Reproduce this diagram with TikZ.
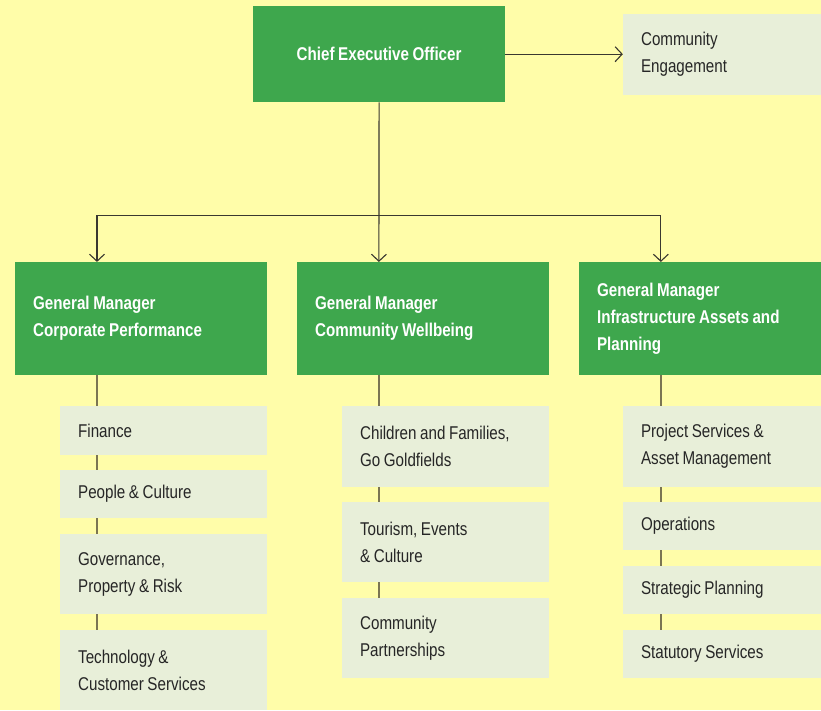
\documentclass[tikz,border=0pt]{standalone}
\usepackage{fontspec}
\setmainfont{Liberation Sans}[FakeStretch=0.82,WordSpace=0.85]
\usepackage{xcolor}
\usetikzlibrary{arrows.meta,backgrounds,calc}

\definecolor{pageyellow}{HTML}{FFFDA9}
\definecolor{gmgreen}{HTML}{3EA74D}
\definecolor{unitpale}{HTML}{E8EFD9}
\definecolor{linkgrey}{HTML}{3A3830}
\definecolor{stemline}{HTML}{7B7553}

\begin{document}
\begin{tikzpicture}[x=1pt,y=-1pt,
  font=\fontsize{18.5}{27}\selectfont,
  box/.style={anchor=north west, inner xsep=18pt, inner ysep=0pt, align=flush left},
  head/.style={box, fill=gmgreen, text=white, font=\fontsize{18.5}{27}\selectfont\bfseries},
  unit/.style={box, fill=unitpale, text=black!85},
  arr/.style={draw=linkgrey, line width=1.1pt, -{Straight Barb[length=7pt,width=15pt]}},
  stem/.style={draw=stemline, line width=1.5pt}]

  % top level
  \node[head, align=flush center, inner xsep=0pt, minimum width=252pt, minimum height=96pt] (ceo) at (253,6) {Chief Executive Officer};
  \node[unit, text width=162pt, minimum height=81pt] (engage) at (623,14) {Community\\Engagement};

  % general managers
  \node[head, text width=216pt, minimum height=113pt] (gmCP) at (15,262) {General Manager\\Corporate Performance};
  \node[head, text width=216pt, minimum height=113pt] (gmCW) at (297,262) {General Manager\\Community Wellbeing};
  \node[head, text width=206pt, minimum height=113pt] (gmIA) at (579,262) {General Manager\\Infrastructure Assets and\\Planning};

  % corporate performance units
  \node[unit, text width=171pt, minimum height=49pt] (cp1) at (60,406) {Finance};
  \node[unit, text width=171pt, minimum height=48pt] (cp2) at (60,470) {People \& Culture};
  \node[unit, text width=171pt, minimum height=80pt] (cp3) at (60,534) {Governance,\\Property \& Risk};
  \node[unit, text width=171pt, minimum height=80pt] (cp4) at (60,630) {Technology \&\\Customer Services};

  % community wellbeing units
  \node[unit, text width=171pt, minimum height=81pt] (cw1) at (342,406) {Children and Families,\\Go Goldfields};
  \node[unit, text width=171pt, minimum height=80pt] (cw2) at (342,502) {Tourism, Events\\\& Culture};
  \node[unit, text width=171pt, minimum height=80pt] (cw3) at (342,598) {Community\\Partnerships};

  % infrastructure units
  \node[unit, text width=162pt, minimum height=81pt] (ia1) at (623,406) {Project Services \&\\Asset Management};
  \node[unit, text width=162pt, minimum height=48pt] (ia2) at (623,502) {Operations};
  \node[unit, text width=162pt, minimum height=48pt] (ia3) at (623,566) {Strategic Planning};
  \node[unit, text width=162pt, minimum height=48pt] (ia4) at (623,630) {Statutory Services};

  % entry points of the arrows
  \coordinate (cpIn) at ($(gmCP.north west)+(82,0)$);
  \coordinate (cwIn) at ($(gmCW.north west)+(82,0)$);
  \coordinate (iaIn) at ($(gmIA.north west)+(82,0)$);
  \coordinate (fork) at ($(ceo.south)+(0,113)$);

  \draw[arr] (ceo.east) -- (ceo.east -| engage.west);
  \draw[arr] (ceo) -- (cwIn);
  \draw[arr] (fork) -| (cpIn);
  \draw[arr] (fork) -| (iaIn);

  \begin{scope}[on background layer]
    \fill[pageyellow] (0,0) rectangle (821,710);
    % stems down each column
    \draw[stem] (cpIn |- gmCP.south) -- (cpIn |- cp4.north);
    \draw[stem] (cwIn |- gmCW.south) -- (cwIn |- cw3.north);
    \draw[stem] (iaIn |- gmIA.south) -- (iaIn |- ia4.north);
  \end{scope}
\end{tikzpicture}
\end{document}
